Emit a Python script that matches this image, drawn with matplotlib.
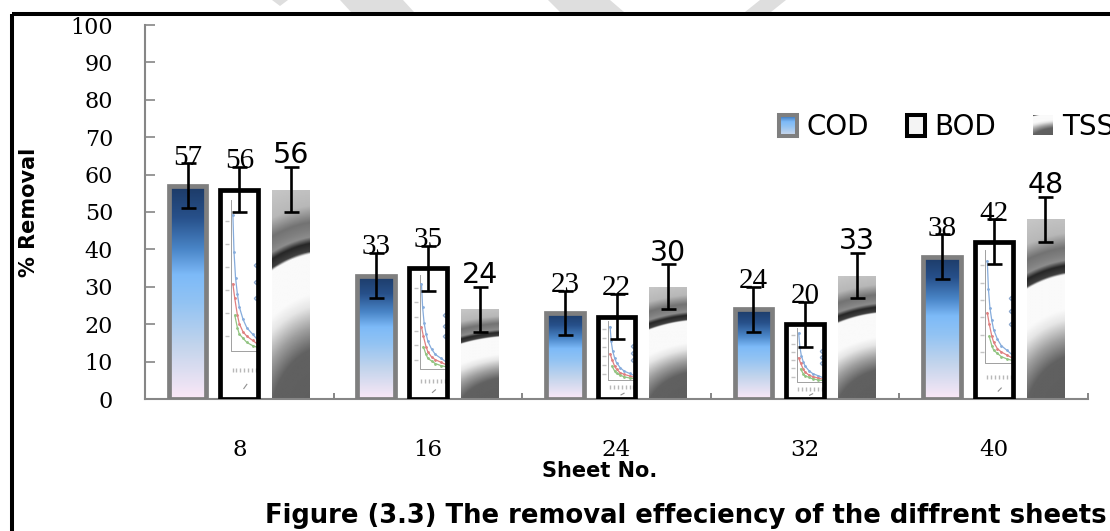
import numpy as np
import matplotlib.pyplot as plt
from matplotlib.patches import Rectangle, Polygon
from matplotlib.colors import LinearSegmentedColormap

# removal efficiency (%) per sheet count
sheets = ['8', '16', '24', '32', '40']
cod = [57, 33, 23, 24, 38]
bod = [56, 35, 22, 20, 42]
tss = [56, 24, 30, 33, 48]
cod_err = [6, 6, 6, 6, 6]
bod_err = [6, 6, 6, 6, 6]
tss_err = [6, 6, 6, 6, 6]
yticks = list(range(0, 101, 10))

W, H = 1110, 531
GRAY = '#868686'

fig = plt.figure(figsize=(W / 100, H / 100), dpi=100)
ax = fig.add_axes([145 / W, 1 - 399 / H, (1088 - 145) / W, (399 - 25) / H])

x = np.arange(len(sheets))
bw = 0.2
step = 0.274

# fills: blue vertical gradient for COD, shaded ring picture for TSS
cod_cmap = LinearSegmentedColormap.from_list('cod', [
    (0.0, '#1c3a66'), (0.15, '#27508a'), (0.3, '#4a86c8'), (0.42, '#7dbaf8'),
    (0.55, '#92c3f3'), (0.75, '#c2d4ec'), (0.9, '#e4e0f2'), (1.0, '#fbe8f7')])
grad = np.linspace(0, 1, 256)[:, None]

uu, vv = np.meshgrid(np.linspace(0, 1, 40), np.linspace(0, 1, 240))
dist = np.hypot(0.25 * (uu - 1.5), vv - 1.15)
tss_img = np.interp(dist,
                    [0, 0.40, 0.50, 0.60, 0.66, 0.85, 0.862, 0.90, 0.93, 0.96, 1.00, 1.08, 1.25],
                    [0.36, 0.38, 0.62, 0.90, 0.98, 0.98, 0.25, 0.15, 0.55, 0.50, 0.45, 0.72, 0.80])

cod_bars = ax.bar(x - step, cod, bw, facecolor='none', edgecolor='#7f7f7f', linewidth=3.4, zorder=3)
bod_bars = ax.bar(x, bod, bw, facecolor='white', edgecolor='none', zorder=1.5)
ax.bar(x, bod, bw, facecolor='none', edgecolor='black', linewidth=3.4, zorder=3)
tss_bars = ax.bar(x + step, tss, bw, facecolor='none', edgecolor='none', zorder=3)

for b in cod_bars:
    im = ax.imshow(grad, cmap=cod_cmap, vmin=0, vmax=1, aspect='auto', origin='upper',
                   extent=[b.get_x(), b.get_x() + b.get_width(), 0, b.get_height()], zorder=2)
    im.set_clip_path(b)

for b in tss_bars:
    im = ax.imshow(tss_img, cmap='gray', vmin=0, vmax=1, aspect='auto', origin='upper',
                   interpolation='bilinear',
                   extent=[b.get_x(), b.get_x() + b.get_width(), 0, b.get_height()], zorder=2)
    im.set_clip_path(b)

# small picture fill inside the BOD bars (faint mini line chart)
tex_blue = ([0.33, 0.36, 0.40, 0.45, 0.5, 0.6, 0.7, 0.85, 1.0],
            [0.12, 0.30, 0.42, 0.50, 0.56, 0.62, 0.66, 0.69, 0.72])
tex_red = ([0.33, 0.38, 0.45, 0.5, 0.6, 0.7, 0.85, 1.0],
           [0.45, 0.52, 0.60, 0.64, 0.68, 0.70, 0.72, 0.74])
tex_green = ([0.38, 0.45, 0.5, 0.6, 0.7, 0.85, 1.0],
             [0.60, 0.66, 0.69, 0.71, 0.73, 0.745, 0.755])
for b in bod_bars:
    x0, w, h = b.get_x(), b.get_width(), b.get_height()

    def to_data(us, vs):
        return x0 + np.asarray(us) * w, h * (1 - np.asarray(vs))

    arts = []
    arts += ax.plot(*to_data([0.28, 0.28, 1.0], [0.05, 0.77, 0.77]), color='#a0a0a0', lw=0.7)
    arts += ax.plot(*to_data(*tex_blue), color='#86acdc', lw=0.9, marker='.', ms=2)
    arts += ax.plot(*to_data(*tex_red), color='#e08080', lw=0.9, marker='.', ms=2)
    arts += ax.plot(*to_data(*tex_green), color='#92c482', lw=0.9, marker='.', ms=2)
    arts += ax.plot(*to_data([0.95, 0.95, 0.95], [0.36, 0.44, 0.52]), ls='none', marker='D',
                    ms=2.2, mfc='none', mec='#8aa6cc')
    arts += ax.plot(*to_data(np.linspace(0.32, 0.95, 7), [0.86] * 7), ls='none', marker='|',
                    ms=3, color='#b8b8b8')
    arts += ax.plot(*to_data([0.18] * 6, np.linspace(0.15, 0.7, 6)), ls='none', marker='_',
                    ms=2.5, color='#c4c4c4')
    arts += ax.plot(*to_data([0.62, 0.7], [0.95, 0.93]), color='#909090', lw=0.8)
    for a in arts:
        a.set_zorder(2)
        a.set_clip_path(b)

# error bars and value labels
for xs, vals, errs in [(x - step, cod, cod_err), (x, bod, bod_err), (x + step, tss, tss_err)]:
    ax.errorbar(xs, vals, yerr=errs, fmt='none', ecolor='black', elinewidth=1.9,
                capsize=5.4, capthick=1.9, zorder=5)

for xs, vals, errs in [(x - step, cod, cod_err), (x, bod, bod_err)]:
    for xi, v, e in zip(xs, vals, errs):
        ax.text(xi, v + e - 0.3, str(v), ha='center', va='baseline', fontsize=21,
                family='Liberation Serif', zorder=6)
for xi, v, e in zip(x + step, tss, tss_err):
    ax.text(xi, v + e + 1, str(v), ha='center', va='baseline', fontsize=20.5,
            family='DejaVu Sans', zorder=6)

# axes formatting
ax.set_xlim(-0.5, 4.5)
ax.set_ylim(0, 100)
ax.set_yticks(yticks)
ax.set_xticks(x)
ax.set_xticklabels(sheets)
ax.set_xticks(np.arange(-0.5, 5, 1), minor=True)
ax.tick_params(axis='y', direction='in', length=7.5, width=1.2, color=GRAY, pad=23,
               labelsize=16, labelfontfamily='DejaVu Serif')
ax.tick_params(axis='x', which='major', length=0, pad=29, labelsize=16.5,
               labelfontfamily='DejaVu Serif')
ax.tick_params(axis='x', which='minor', direction='in', length=4.5, width=1.4, color=GRAY)
for s in ['top', 'right']:
    ax.spines[s].set_visible(False)
for s in ['left', 'bottom']:
    ax.spines[s].set_color(GRAY)
    ax.spines[s].set_linewidth(1.5)

# page overlay in pixel units: frame, legend, titles
ov = fig.add_axes([0, 0, 1, 1], zorder=10)

for pts in [[(272, 0), (288, 0), (280, 6)],
            [(340, 0), (403, 0), (414, 12), (351, 12)],
            [(548, 0), (610, 0), (624, 12), (560, 12)],
            [(760, 0), (786, 0), (771, 12), (745, 12)]]:
    ov.add_patch(Polygon(pts, closed=True, facecolor='#dedede', edgecolor='none', zorder=1))
ov.add_patch(Rectangle((12, 14), 3000, 3000, fill=False, edgecolor='black', linewidth=2.9,
                       zorder=2, clip_on=False))

ov.imshow(grad[60:210], cmap=cod_cmap, vmin=0, vmax=1, aspect='auto', origin='upper',
          extent=[779, 797, 136, 115], zorder=3)
ov.add_patch(Rectangle((779, 115), 18, 21, fill=False, edgecolor='#7f7f7f', linewidth=2.9, zorder=4))
ov.add_patch(Rectangle((906.5, 115), 18, 21, facecolor='#f4f4f4', edgecolor='black',
                       linewidth=2.9, zorder=4))
ov.imshow(tss_img[84:], cmap='gray', vmin=0, vmax=1, aspect='auto', origin='upper',
          interpolation='bilinear', extent=[1033, 1053, 135, 115], zorder=3)
for tx, name in [(806, 'COD'), (934, 'BOD'), (1062, 'TSS')]:
    ov.text(tx, 135, name, fontsize=20, ha='left', va='baseline', family='DejaVu Sans', zorder=5)

ov.text(600, 477, 'Sheet No.', fontsize=15, fontweight='bold', ha='center', va='baseline')
ov.text(29, 212, '% Removal', fontsize=15, fontweight='bold', rotation=90,
        ha='center', va='center')
ov.text(265, 523, 'Figure (3.3) The removal effeciency of the diffrent sheets',
        fontsize=18.6, fontweight='bold', ha='left', va='baseline')

ov.set_xlim(0, W)
ov.set_ylim(H, 0)
ov.axis('off')

fig.savefig('out.png', dpi=100)
